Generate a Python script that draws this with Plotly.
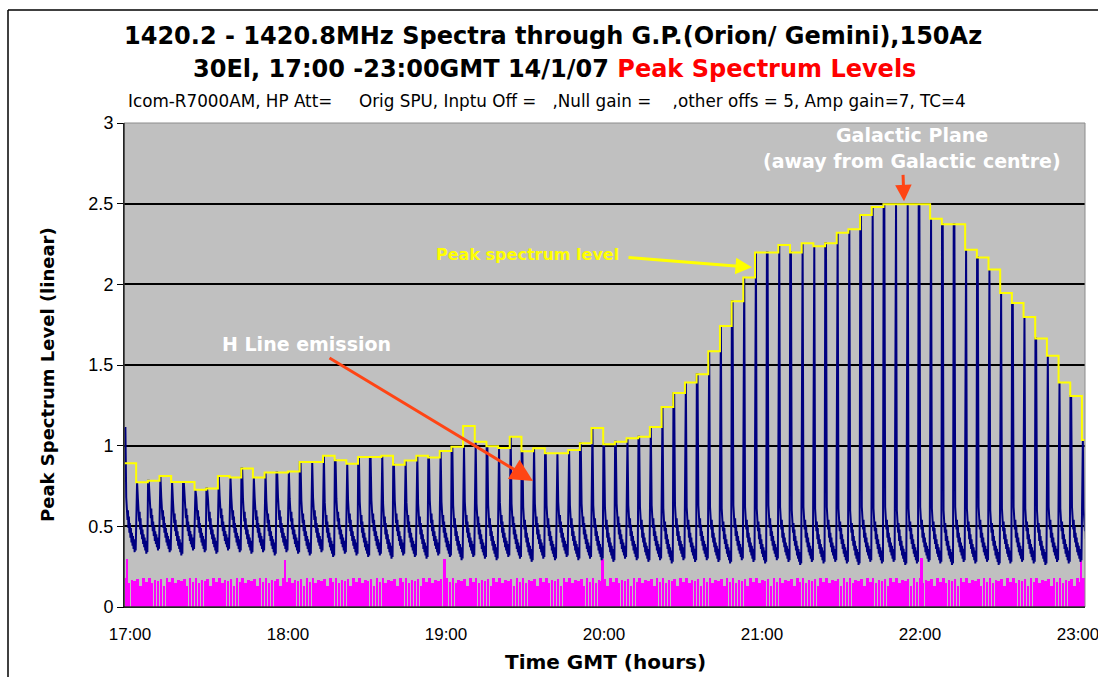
import plotly.graph_objects as go

# ---------------- data ----------------
scan_start_h = 16.965          # time of first spectrum sweep (hours GMT)
scan_step_h = 0.0739           # sweep period (hours)

# peak spectrum level of each sweep (yellow step line)
peak_level = [
    0.891, 0.774, 0.783, 0.812, 0.775, 0.775, 0.726, 0.734, 0.812, 0.802,
    0.858, 0.803, 0.833, 0.833, 0.840, 0.898, 0.898, 0.937, 0.910, 0.888,
    0.929, 0.929, 0.937, 0.881, 0.908, 0.937, 0.927, 0.967, 0.994, 1.122,
    1.024, 0.996, 0.985, 1.055, 0.965, 0.984, 0.953, 0.953, 0.973, 1.015,
    1.110, 1.009, 1.025, 1.046, 1.056, 1.116, 1.240, 1.326, 1.392, 1.442,
    1.586, 1.741, 1.895, 2.042, 2.197, 2.197, 2.244, 2.197, 2.254, 2.236,
    2.254, 2.320, 2.341, 2.429, 2.479, 2.496, 2.496, 2.496, 2.496, 2.407,
    2.372, 2.372, 2.215, 2.166, 2.092, 1.947, 1.885, 1.798, 1.665, 1.557,
    1.392, 1.308, 1.035,
]
# sweeps where the navy spike top differs from the yellow peak level
spike_override = {0: 1.11, 29: 0.99}

# shape of the spectrum tail after each H-line spike (fraction of sweep, level)
tail_frac = [0.15, 0.19, 0.22, 0.26, 0.30, 0.34, 0.38, 0.42, 0.46, 0.51,
             0.55, 0.60, 0.64, 0.69, 0.73, 0.78, 0.82, 0.87, 0.91, 0.96]
tail_level = [0.66, 0.56, 0.63, 0.52, 0.58, 0.47, 0.54, 0.44, 0.50, 0.41,
              0.47, 0.38, 0.44, 0.36, 0.42, 0.34, 0.40, 0.32, 0.38, 0.33]
# per-sweep baseline shift of the tail
tail_shift = [
    0.02, 0.01, 0.03, 0.02, 0.00, 0.03, 0.02, 0.01, 0.03, 0.02,
    0.01, 0.02, 0.00, 0.02, 0.01, 0.00, 0.02, -0.01, 0.01, 0.00,
    -0.01, 0.00, -0.02, 0.00, -0.01, -0.02, 0.00, -0.01, -0.03, -0.01,
    -0.02, -0.03, -0.01, -0.02, -0.04, -0.02, -0.03, -0.01, -0.03, -0.02,
    -0.03, -0.04, -0.02, -0.03, -0.04, -0.03, -0.05, -0.03, -0.04, -0.03,
    -0.04, -0.05, -0.03, -0.04, -0.05, -0.03, -0.04, -0.06, -0.04, -0.05,
    -0.04, -0.05, -0.06, -0.04, -0.05, -0.04, -0.06, -0.05, -0.04, -0.05,
    -0.06, -0.04, -0.05, -0.04, -0.06, -0.05, -0.04, -0.05, -0.06, -0.04,
    -0.05, -0.04, -0.05,
]

# magenta (null) channel levels, sub-sweep pattern
magenta_pattern = [0.18, 0.15, 0.17, 0.16, 0.175, 0.13, 0.18, 0.155]
magenta_per_sweep = 4
marker_times = [16.98, 17.98, 18.99, 19.99, 22.01, 23.02]
marker_levels = [0.30, 0.29, 0.30, 0.30, 0.305, 0.305]

hour_ticks = [17, 18, 19, 20, 21, 22, 23]
hour_labels = ["17:00", "18:00", "19:00", "20:00", "21:00", "22:00", "23:00"]

# ---------------- build traces ----------------
n = len(peak_level)
sweep_t = [scan_start_h + i * scan_step_h for i in range(n)]

# yellow step line
yx = sweep_t + [sweep_t[-1] + scan_step_h]
yy = peak_level + [peak_level[-1]]

# navy spectra line
nx, ny = [], []
for i, t0 in enumerate(sweep_t):
    p = spike_override.get(i, peak_level[i])
    nx += [t0 + 0.02 * scan_step_h, t0 + 0.08 * scan_step_h]
    ny += [p, p]
    for f, v in zip(tail_frac, tail_level):
        nx.append(t0 + f * scan_step_h)
        ny.append(v + tail_shift[i])

# magenta bars
mx, my = [], []
sub = scan_step_h / magenta_per_sweep
for i, t0 in enumerate(sweep_t):
    for k in range(magenta_per_sweep):
        mx.append(t0 + (k + 0.5) * sub)
        my.append(magenta_pattern[(i * magenta_per_sweep + k) % len(magenta_pattern)])
mx += marker_times
my += marker_levels

fig = go.Figure()
fig.add_trace(go.Bar(x=mx, y=my, width=sub * 0.85, marker=dict(color="#ff00ff", line=dict(width=0)),
                     hoverinfo="skip"))
fig.add_trace(go.Scatter(x=nx, y=ny, mode="lines", line=dict(color="#000080", width=2),
                         hoverinfo="skip"))
fig.add_trace(go.Scatter(x=yx, y=yy, mode="lines", line=dict(color="#ffff00", width=2, shape="hv"),
                         hoverinfo="skip"))

# ---------------- layout ----------------
W, H = 1098, 677
L, R, T, B = 124, 13, 123, 70
pw, ph = W - L - R, H - T - B


def px(xp):
    return (xp - L) / pw


def py(yp):
    return (H - B - yp) / ph


def hx(xp):
    return 17 + (xp - 130) / 158.0


def vy(yp):
    return (607.3 - yp) / 161.6


FONT = "Liberation Sans, Arial, sans-serif"
BOLD = "DejaVu Sans, Liberation Sans, Arial, sans-serif"

fig.update_layout(
    width=W, height=H,
    margin=dict(l=L, r=R, t=T, b=B, autoexpand=False),
    paper_bgcolor="white", plot_bgcolor="#c0c0c0",
    showlegend=False, bargap=0,
    font=dict(family=FONT, color="black"),
    xaxis=dict(range=[hx(124), hx(1085)], tickvals=hour_ticks, ticktext=hour_labels,
               showgrid=False, zeroline=False, showline=True, linecolor="black", linewidth=1,
               ticks="", ticklabelstandoff=12, ticklabeloverflow="allow", automargin=False,
               tickfont=dict(size=17, family=FONT)),
    yaxis=dict(range=[0, 3], dtick=0.5, showgrid=True, gridcolor="#000000", gridwidth=1.5,
               zeroline=False, showline=True, linecolor="black", linewidth=1, automargin=False,
               ticks="outside", ticklen=6, tickcolor="black", tickfont=dict(size=18)),
)

shapes = [
    dict(type="rect", xref="paper", yref="paper", x0=0, x1=1, y0=0, y1=1,
         line=dict(color="#8c8c8c", width=1), layer="above"),
    dict(type="line", xref="paper", yref="paper", x0=px(8), x1=px(8), y0=py(10), y1=py(690),
         line=dict(color="black", width=1.5)),
    dict(type="line", xref="paper", yref="paper", x0=px(8), x1=px(1110), y0=py(10), y1=py(10),
         line=dict(color="black", width=1.5)),
    dict(type="line", xref="paper", yref="paper", x0=0, x1=0, y0=0, y1=1,
         line=dict(color="black", width=1), layer="above"),
    dict(type="line", xref="paper", yref="paper", x0=0, x1=1, y0=0, y1=0,
         line=dict(color="black", width=1), layer="above"),
]
fig.update_layout(shapes=shapes)

RED = "#ff4515"
ann = [
    dict(xref="paper", yref="paper", x=px(553), y=py(36), xanchor="center", yanchor="middle",
         text="<b>1420.2 - 1420.8MHz Spectra through G.P.(Orion/ Gemini),150Az</b>",
         showarrow=False, font=dict(size=24, family=BOLD, color="black")),
    dict(xref="paper", yref="paper", x=px(554), y=py(69), xanchor="center", yanchor="middle",
         text="<b>30El, 17:00 -23:00GMT 14/1/07 <span style='color:#ff0000'>Peak Spectrum Levels</span></b>",
         showarrow=False, font=dict(size=24, family=BOLD, color="black")),
    dict(xref="paper", yref="paper", x=px(126), y=py(101), xanchor="left", yanchor="middle",
         text="Icom-R7000AM, HP Att=\u00a0\u00a0\u00a0\u00a0 Orig SPU, Inptu Off =\u00a0\u00a0 ,Null gain =\u00a0\u00a0\u00a0 ,other offs = 5, Amp gain=7, TC=4",
         showarrow=False, font=dict(size=16.8, family=BOLD, color="black")),
    dict(xref="paper", yref="paper", x=px(47), y=py(375), xanchor="center", yanchor="middle",
         textangle=-90, text="<b>Peak Spectrum Level (linear)</b>",
         showarrow=False, font=dict(size=18, family=BOLD, color="black")),
    dict(xref="paper", yref="paper", x=px(605), y=py(662), xanchor="center", yanchor="middle",
         text="<b>Time GMT (hours)</b>",
         showarrow=False, font=dict(size=20, family=BOLD, color="black")),
    # in-plot labels
    dict(x=hx(912), y=vy(135), text="<b>Galactic Plane</b>", showarrow=False,
         font=dict(size=19, family=BOLD, color="white")),
    dict(x=hx(912), y=vy(161), text="<b>(away from Galactic centre)</b>", showarrow=False,
         font=dict(size=19, family=BOLD, color="white")),
    dict(x=hx(306), y=vy(344), text="<b>H Line emission</b>", showarrow=False,
         font=dict(size=19, family=BOLD, color="white")),
    dict(x=hx(527), y=vy(254), text="<b>Peak spectrum level</b>", showarrow=False,
         font=dict(size=16, family=BOLD, color="#ffff00")),
    # arrows
    dict(x=hx(533), y=vy(481), ax=hx(328), ay=vy(357), axref="x", ayref="y", text="",
         showarrow=True, arrowhead=2, arrowsize=1.5, arrowwidth=3, arrowcolor=RED),
    dict(x=hx(904), y=vy(201), ax=hx(903), ay=vy(173), axref="x", ayref="y", text="",
         showarrow=True, arrowhead=2, arrowsize=1.1, arrowwidth=3, arrowcolor=RED),
    dict(x=hx(752), y=vy(267), ax=hx(627), ay=vy(257), axref="x", ayref="y", text="",
         showarrow=True, arrowhead=2, arrowsize=1.1, arrowwidth=3, arrowcolor="#ffff00"),
]
fig.update_layout(annotations=ann)

fig.write_html("out.html", config={"displayModeBar": False},
               post_script="document.body.style.margin='0';document.body.style.overflow='hidden';")
